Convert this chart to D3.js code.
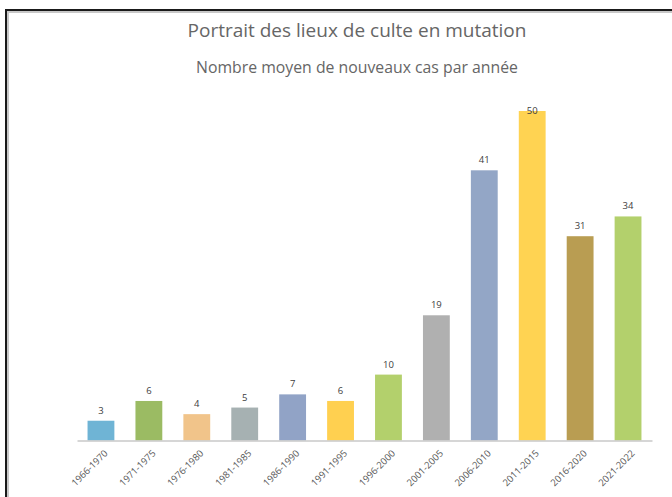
<!DOCTYPE html>
<html>
<head>
<meta charset="utf-8">
<style>
  body { margin: 0; background: #fff; }
  svg { display: block; font-family: "Open Sans", "Liberation Sans", sans-serif; }
</style>
<script src="https://d3js.org/d3.v7.min.js"></script>
</head>
<body>
<div id="chart"></div>
<script>
  // periods and average number of new cases per year
  const periods = ["1966-1970", "1971-1975", "1976-1980", "1981-1985", "1986-1990", "1991-1995",
                   "1996-2000", "2001-2005", "2006-2010", "2011-2015", "2016-2020", "2021-2022"];
  const values = [3, 6, 4, 5, 7, 6, 10, 19, 41, 50, 31, 34];
  const colors = ["#6fb4d5", "#9bbb63", "#f1c48a", "#a6b1b2", "#91a3c6", "#ffd050",
                  "#b3d06c", "#b0b0b0", "#93a6c6", "#ffd352", "#b99d52", "#b3d06c"];

  const width = 672, height = 497;

  const svg = d3.select("#chart").append("svg")
    .attr("width", width)
    .attr("height", height);

  // frame with a little shadow
  svg.append("rect")
    .attr("x", 7).attr("y", 11)
    .attr("width", 720).attr("height", 520)
    .attr("fill", "none")
    .attr("stroke", "#c8c8c8")
    .attr("stroke-width", 4);
  svg.append("rect")
    .attr("x", 6).attr("y", 10)
    .attr("width", 720).attr("height", 520)
    .attr("fill", "none")
    .attr("stroke", "#1a1a1a")
    .attr("stroke-width", 2);

  svg.append("text")
    .attr("x", 357).attr("y", 37)
    .attr("text-anchor", "middle")
    .attr("font-size", 19)
    .attr("fill", "#666")
    .text("Portrait des lieux de culte en mutation");

  svg.append("text")
    .attr("x", 357).attr("y", 73)
    .attr("text-anchor", "middle")
    .attr("font-size", 15.8)
    .attr("fill", "#666")
    .text("Nombre moyen de nouveaux cas par année");

  const x = d3.scaleBand()
    .domain(periods)
    .range([77, 652])
    .paddingInner(0.44)
    .paddingOuter(0.22);

  const y = d3.scaleLinear()
    .domain([0, 50])
    .range([440.5, 111]);

  const data = periods.map((p, i) => ({ p, v: values[i], c: colors[i] }));

  svg.append("g")
    .selectAll("rect")
    .data(data)
    .join("rect")
      .attr("x", d => x(d.p))
      .attr("y", d => y(d.v))
      .attr("width", x.bandwidth())
      .attr("height", d => y(0) - y(d.v))
      .attr("fill", d => d.c);

  // value labels (the top one gets pushed inside the plot like excel does)
  svg.append("g")
    .selectAll("text")
    .data(data)
    .join("text")
      .attr("x", d => x(d.p) + x.bandwidth() / 2)
      .attr("y", d => Math.max(y(d.v) - 7, 114))
      .attr("text-anchor", "middle")
      .attr("font-size", 9.5)
      .attr("fill", "#404040")
      .text(d => d.v);

  const xAxis = svg.append("g")
    .attr("transform", `translate(0,${y(0)})`)
    .call(d3.axisBottom(x).tickSize(0).tickPadding(0));

  xAxis.select(".domain")
    .attr("stroke", "#c9c9c9")
    .attr("stroke-width", 1.5);

  xAxis.selectAll(".tick text")
    .attr("font-family", "Open Sans, sans-serif")
    .attr("font-size", 9.5)
    .attr("fill", "#595959")
    .attr("text-anchor", "end")
    .attr("dy", "0.35em")
    .attr("transform", "translate(5,11) rotate(-45)");
</script>
</body>
</html>
